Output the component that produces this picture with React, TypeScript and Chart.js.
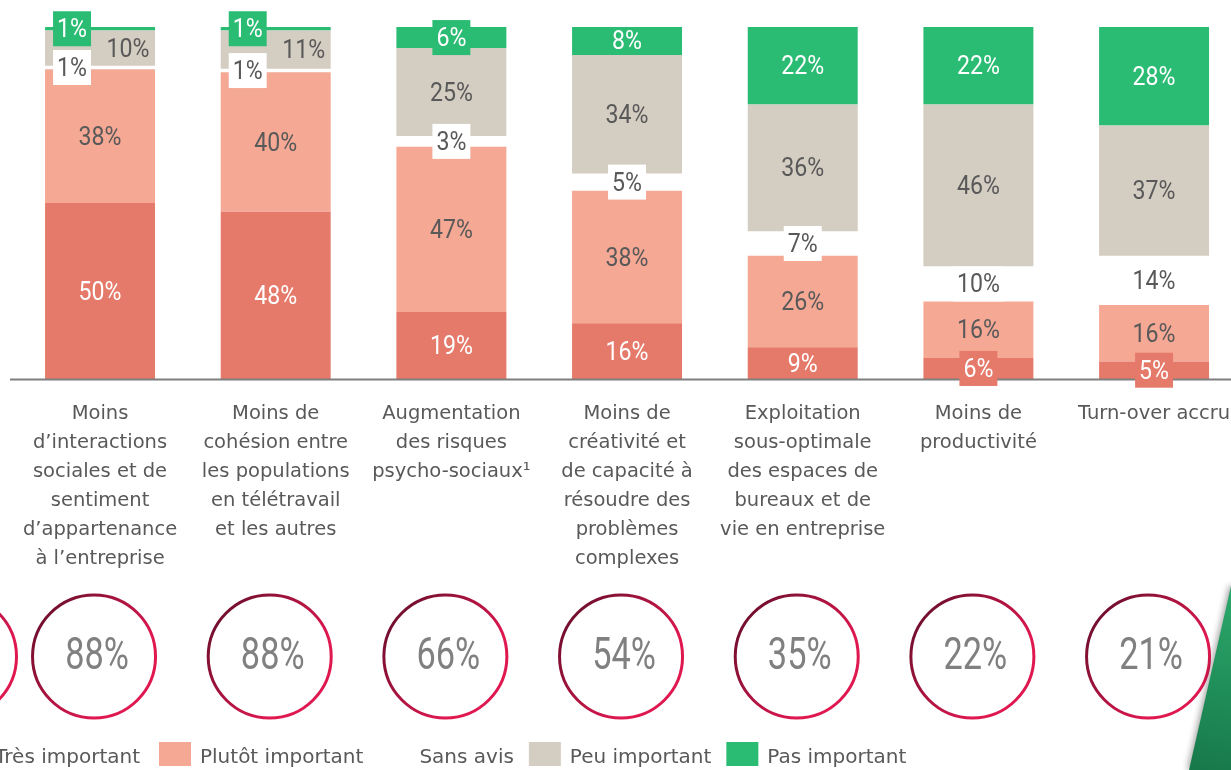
import React, { useEffect, useRef } from "react";
import { Chart, registerables } from "chart.js";

Chart.register(...registerables);

// ---------- DATA ----------
const categories: string[][] = [
  ["Moins", "d’interactions", "sociales et de", "sentiment", "d’appartenance", "à l’entreprise"],
  ["Moins de", "cohésion entre", "les populations", "en télétravail", "et les autres"],
  ["Augmentation", "des risques", "psycho-sociaux¹"],
  ["Moins de", "créativité et", "de capacité à", "résoudre des", "problèmes", "complexes"],
  ["Exploitation", "sous-optimale", "des espaces de", "bureaux et de", "vie en entreprise"],
  ["Moins de", "productivité"],
  ["Turn-over accru"],
];

const seriesNames = ["Très important", "Plutôt important", "Sans avis", "Peu important", "Pas important"];
const tresImportant = [50, 48, 19, 16, 9, 6, 5];
const plutotImportant = [38, 40, 47, 38, 26, 16, 16];
const sansAvis = [1, 1, 3, 5, 7, 10, 14];
const peuImportant = [10, 11, 25, 34, 36, 46, 37];
const pasImportant = [1, 1, 6, 8, 22, 22, 28];
const importanceTotals = [88, 88, 66, 54, 35, 22, 21];

const seriesColors = ["#E57A6A", "#F5A894", "rgba(255,255,255,0)", "#D4CDC2", "#2BBC74"];
const legendBoxColors = ["#E57A6A", "#F5A894", "#FFFFFF", "#D4CDC2", "#2BBC74"];
const labelColors = ["#FFFFFF", "#595959", "#595959", "#595959", "#FFFFFF"];

const rawSeries = [tresImportant, plutotImportant, sansAvis, peuImportant, pasImportant];

const NUM_FONT = 'Roboto, "Liberation Sans", sans-serif';
const TXT_FONT = '"DejaVu Sans", Verdana, sans-serif';
const TEXT_GREY = "#595959";

const CANVAS_W = 1260;
const CANVAS_H = 770;

function drawNum(
  ctx: CanvasRenderingContext2D,
  text: string,
  x: number,
  y: number,
  font: string,
  scaleX: number,
  color: string
) {
  ctx.save();
  ctx.translate(x, y);
  ctx.scale(scaleX, 1);
  ctx.font = font;
  ctx.fillStyle = color;
  ctx.textAlign = "center";
  ctx.textBaseline = "middle";
  ctx.fillText(text, 0, 0);
  ctx.restore();
}

function drawRing(ctx: CanvasRenderingContext2D, cx: number, cy: number, r: number) {
  const g = ctx.createLinearGradient(cx - r, cy - r * 0.6, cx + r * 0.4, cy + r * 0.45);
  g.addColorStop(0, "#6B0E2C");
  g.addColorStop(1, "#DF1850");
  ctx.strokeStyle = g;
  ctx.lineWidth = 3;
  ctx.beginPath();
  ctx.arc(cx, cy, r, 0, Math.PI * 2);
  ctx.stroke();
}

const LABEL_FONT = `26px ${NUM_FONT}`;
const LABEL_SCALE = 0.89;

const overlayPlugin = {
  id: "overlay",
  afterDatasetsDraw(chart: any) {
    const ctx: CanvasRenderingContext2D = chart.ctx;
    const area = chart.chartArea;
    ctx.save();
    // baseline axis
    ctx.strokeStyle = "#7F7F7F";
    ctx.lineWidth = 2;
    ctx.beginPath();
    ctx.moveTo(10, area.bottom + 0.5);
    ctx.lineTo(chart.width, area.bottom + 0.5);
    ctx.stroke();

    // bar value labels
    chart.data.datasets.forEach((_ds: any, di: number) => {
      const meta = chart.getDatasetMeta(di);
      meta.data.forEach((bar: any, j: number) => {
        const p = bar.getProps(["x", "y", "base"], true);
        const cy = (p.y + p.base) / 2;
        const raw = rawSeries[di][j];
        const text = `${raw}%`;
        const tinyTop = pasImportant[j] < 3;
        let dx = 0;
        if (tinyTop && (di === 2 || di === 4)) dx = -28;
        if (tinyTop && di === 3) dx = 28;
        ctx.font = LABEL_FONT;
        const tw = ctx.measureText(text).width * LABEL_SCALE;
        const bw = Math.max(37, tw + 8);
        const bh = 35;
        if (di === 2) {
          ctx.fillStyle = "#FFFFFF";
          ctx.fillRect(p.x + dx - bw / 2, cy - bh / 2, bw, bh);
        } else if ((di === 0 || di === 4) && raw <= 6) {
          ctx.fillStyle = seriesColors[di];
          ctx.fillRect(p.x + dx - bw / 2, cy - bh / 2, bw, bh);
        }
        drawNum(ctx, text, p.x + dx, cy + 2, LABEL_FONT, LABEL_SCALE, labelColors[di]);
      });
    });
    ctx.restore();
  },
  afterDraw(chart: any) {
    const ctx: CanvasRenderingContext2D = chart.ctx;
    const area = chart.chartArea;
    const xs = chart.scales.x;
    ctx.save();

    // category labels
    ctx.font = `19.5px ${TXT_FONT}`;
    ctx.fillStyle = TEXT_GREY;
    ctx.textAlign = "center";
    ctx.textBaseline = "alphabetic";
    categories.forEach((lines, j) => {
      const x = xs.getPixelForValue(j);
      lines.forEach((line, i) => {
        ctx.fillText(line, x, area.bottom + 40 + i * 29);
      });
    });

    // rings with totals
    const cy = area.bottom + 277.5;
    const r = 61.5;
    drawRing(ctx, -45, cy, r);
    importanceTotals.forEach((v, j) => {
      const cx = xs.getPixelForValue(j) - 6;
      drawRing(ctx, cx, cy, r);
      drawNum(ctx, `${v}%`, cx + 3, cy + 1, `400 44px ${NUM_FONT}`, 0.78, "#808080");
    });

    // legend
    ctx.font = `20px ${TXT_FONT}`;
    ctx.textAlign = "left";
    ctx.textBaseline = "alphabetic";
    const boxW = 32, boxH = 24, boxGap = 9, itemGap = 15;
    const boxTop = area.bottom + 363;
    const baseY = area.bottom + 384;
    const firstW = ctx.measureText(seriesNames[0]).width;
    let lx = 159 - 19 - firstW - boxW - boxGap;
    seriesNames.forEach((name, i) => {
      ctx.fillStyle = legendBoxColors[i];
      ctx.fillRect(lx, boxTop, boxW, boxH);
      ctx.fillStyle = TEXT_GREY;
      const tx = lx + boxW + boxGap;
      ctx.fillText(name, tx, baseY);
      lx = tx + ctx.measureText(name).width + (i === 0 ? 19 : itemGap);
    });

    // decorative green shape at bottom right
    ctx.save();
    ctx.shadowColor = "rgba(0,0,0,0.35)";
    ctx.shadowBlur = 6;
    ctx.shadowOffsetX = -2;
    const gg = ctx.createLinearGradient(1231, 590, 1190, 770);
    gg.addColorStop(0, "#2BA86B");
    gg.addColorStop(1, "#17784A");
    ctx.fillStyle = gg;
    ctx.beginPath();
    ctx.moveTo(1231, 586);
    ctx.lineTo(1260, 586);
    ctx.lineTo(1260, 770);
    ctx.lineTo(1189, 770);
    ctx.closePath();
    ctx.fill();
    ctx.restore();

    ctx.restore();
  },
};

export default function App() {
  const ref = useRef<HTMLCanvasElement | null>(null);

  useEffect(() => {
    document.documentElement.style.overflow = "hidden";
    document.body.style.margin = "0";
    document.body.style.overflow = "hidden";
    const canvas = ref.current;
    if (!canvas) return;

    const totals = categories.map((_, j) => rawSeries.reduce((s, arr) => s + arr[j], 0));
    const datasets = rawSeries.map((arr, di) => ({
      label: seriesNames[di],
      data: arr.map((v, j) => (v / totals[j]) * 100),
      backgroundColor: seriesColors[di],
      borderWidth: 0,
      barPercentage: 0.626,
      categoryPercentage: 1,
    }));

    const chart = new Chart(canvas, {
      type: "bar",
      data: { labels: categories.map((c) => c.join(" ")), datasets },
      options: {
        responsive: false,
        animation: false,
        devicePixelRatio: 1,
        layout: { padding: { left: 12.2, right: CANVAS_W - 1241.9, top: 27, bottom: CANVAS_H - 379 } },
        plugins: { legend: { display: false }, tooltip: { enabled: false } },
        scales: {
          x: { stacked: true, display: false },
          y: { stacked: true, display: false, min: 0, max: 100 },
        },
      },
      plugins: [overlayPlugin],
    });

    let alive = true;
    if ((document as any).fonts && (document as any).fonts.ready) {
      (document as any).fonts.ready.then(() => {
        if (alive) chart.update();
      });
    }
    return () => {
      alive = false;
      chart.destroy();
    };
  }, []);

  return (
    <div style={{ width: CANVAS_W, height: CANVAS_H, overflow: "hidden" }}>
      <canvas ref={ref} width={CANVAS_W} height={CANVAS_H} style={{ width: CANVAS_W, height: CANVAS_H, display: "block" }} />
    </div>
  );
}
